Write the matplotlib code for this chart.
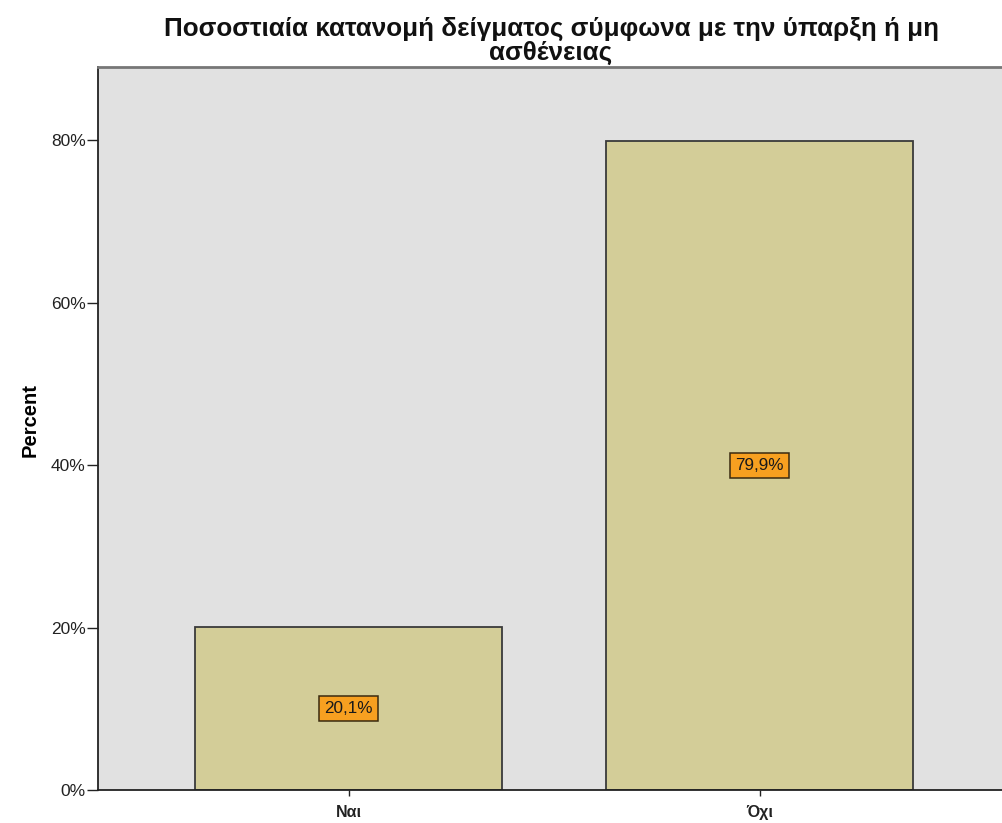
import matplotlib
matplotlib.use("Agg")
import matplotlib.pyplot as plt
from matplotlib.ticker import FuncFormatter

categories = ["Ναι", "Όχι"]
percents = [20.1, 79.9]
value_labels = ["20,1%", "79,9%"]
y_ticks = [0, 20, 40, 60, 80]

title_lines = ["Ποσοστιαία κατανομή δείγματος σύμφωνα με την ύπαρξη ή μη", "ασθένειας"]

plt.rcParams['font.family'] = ['Liberation Sans', 'DejaVu Sans']

W, H = 1002, 823
fig = plt.figure(figsize=(W / 100, H / 100), dpi=100)
ax = fig.add_axes([98 / W, 1 - 790 / H, 1 - 98 / W, (790 - 67) / H])
ax.set_facecolor("#e1e1e1")

x = list(range(len(categories)))
ax.bar(x, percents, width=0.747, color="#d3cd98", edgecolor="#3a3a3a", linewidth=1.3, zorder=2)

for xi, v, lab in zip(x, percents, value_labels):
    ax.text(xi, v / 2, lab, ha="center", va="center", fontsize=12.3, color="#1a1a1a", zorder=3,
            bbox=dict(boxstyle="square,pad=0.28", facecolor="#f7a020", edgecolor="#3a2a10", linewidth=1.1))

ax.set_xlim(-0.6095, 1.590)
ax.set_ylim(0, 89)
ax.set_xticks(x)
ax.set_xticklabels(categories, fontsize=11.5, fontweight="bold")
ax.set_yticks(y_ticks)
ax.yaxis.set_major_formatter(FuncFormatter(lambda v, p: f"{v:.0f}%"))
ax.tick_params(axis="y", labelsize=12.5, length=8, width=1, colors="#222222", pad=1)
ax.tick_params(axis="x", length=4.5, width=1, colors="#222222", pad=6)

for s in ["top", "right"]:
    ax.spines[s].set_visible(False)
for s in ["left", "bottom"]:
    ax.spines[s].set_color("#222222")
    ax.spines[s].set_linewidth(1.3)
# frame line along the top of the plot area
ax.axhline(89, color="#777777", linewidth=2.0, zorder=4, clip_on=False)

ax.set_ylabel("Percent", fontsize=14.5, fontweight="bold")
ax.yaxis.set_label_coords(-58 / (W - 98), (790 - 420) / (790 - 67))

cx = 551 / W
fig.text(cx, 1 - 36 / H, title_lines[0], ha="center", va="baseline", fontsize=18.7,
         fontweight="bold", color="#111111")
fig.text(cx, 1 - 60 / H, title_lines[1], ha="center", va="baseline", fontsize=18.7,
         fontweight="bold", color="#111111")

fig.savefig("out.png", dpi=100, facecolor="white")
